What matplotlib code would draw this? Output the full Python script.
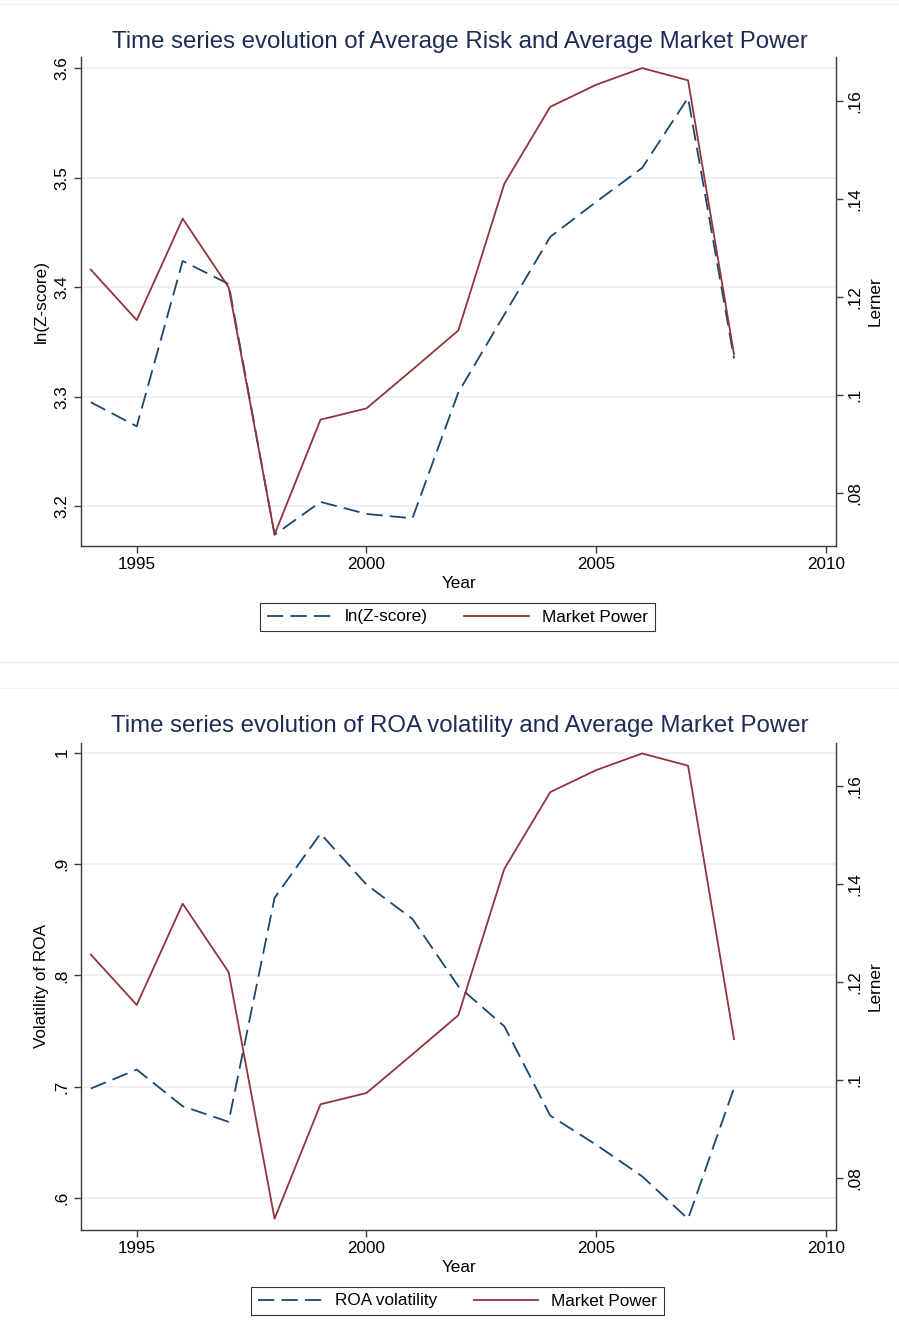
import matplotlib
matplotlib.use("Agg")
import matplotlib.pyplot as plt
from matplotlib.lines import Line2D

plt.rcParams['font.family'] = ['Liberation Sans', 'DejaVu Sans']

years = [1994, 1995, 1996, 1997, 1998, 1999, 2000, 2001, 2002, 2003, 2004, 2005, 2006, 2007, 2008]
ln_zscore = [3.295, 3.273, 3.424, 3.403, 3.174, 3.204, 3.193, 3.189, 3.304, 3.375, 3.446, 3.478, 3.509, 3.573, 3.335]
market_power = [0.1256, 0.1153, 0.1360, 0.1220, 0.0716, 0.0950, 0.0973, 0.1052, 0.1132, 0.1431, 0.1588, 0.1633, 0.1667, 0.1642, 0.1083]
roa_vol = [0.6985, 0.7155, 0.6826, 0.6686, 0.8697, 0.9274, 0.8816, 0.8508, 0.7903, 0.7544, 0.6742, 0.6480, 0.6197, 0.5815, 0.6990]

x_ticks = [1995, 2000, 2005, 2010]
top_left_ticks = [3.2, 3.3, 3.4, 3.5, 3.6]
top_left_labels = ["3.2", "3.3", "3.4", "3.5", "3.6"]
bot_left_ticks = [0.6, 0.7, 0.8, 0.9, 1.0]
bot_left_labels = [".6", ".7", ".8", ".9", "1"]
right_ticks = [0.08, 0.10, 0.12, 0.14, 0.16]
right_labels = [".08", ".1", ".12", ".14", ".16"]

NAVY = "#1a476f"
MAROON = "#90353b"
GRID = "#e8eff2"
AX = "#3a3a3a"
TITLE = "#1e2c55"
FS = 12.3

W, H = 899, 1338
fig = plt.figure(figsize=(W / 100, H / 100), dpi=100)


def fx(px):
    return px / W


def fy(py):
    return 1 - py / H


def panel(top_px, bot_px, left_vals, left_ticks, left_labels, left_lim,
          left_label, title, title_y, year_y, leg_y, leg_name):
    ax = fig.add_axes([fx(80.7), fy(bot_px), fx(836 - 80.7), (bot_px - top_px) / H])
    ax2 = ax.twinx()
    ax.set_xlim(1993.78, 2010.22)
    ax.set_ylim(*left_lim)
    ax2.set_ylim(0.0693, 0.1689)
    ax.plot(years, left_vals, color=NAVY, lw=1.3, dashes=(9, 4))
    ax2.plot(years, market_power, color=MAROON, lw=1.3)
    ax.set_yticks(left_ticks)
    ax.set_yticklabels(left_labels, rotation=90, va='center')
    ax2.set_yticks(right_ticks)
    ax2.set_yticklabels(right_labels, rotation=90, va='center')
    ax.set_xticks(x_ticks)
    ax.set_xticklabels([str(t) for t in x_ticks])
    ax.grid(axis='y', color=GRID, lw=1.2)
    ax.set_axisbelow(True)
    for a in (ax, ax2):
        a.spines['top'].set_visible(False)
        for s in ('left', 'right', 'bottom'):
            a.spines[s].set_color(AX)
            a.spines[s].set_linewidth(1.0)
        a.tick_params(direction='out', length=5, width=1.0, color=AX, labelsize=FS,
                      labelcolor='black', pad=3)
    ax.spines['right'].set_visible(False)
    ax2.spines['left'].set_visible(False)
    ax2.spines['bottom'].set_visible(False)
    ax.set_ylabel(left_label, fontsize=FS, labelpad=4)
    ax2.set_ylabel("Lerner", fontsize=FS, labelpad=4)
    fig.text(fx(459), fy(year_y), "Year", ha='center', va='center', fontsize=FS)
    fig.text(fx(460), fy(title_y), title, ha='center', va='center', fontsize=17.3, color=TITLE)
    handles = [Line2D([], [], color=NAVY, lw=1.3, dashes=(9, 4)),
               Line2D([], [], color=MAROON, lw=1.3)]
    leg = fig.legend(handles, [leg_name, "Market Power"], loc='center',
                     bbox_to_anchor=(fx(457.5), fy(leg_y)), ncol=2, fontsize=FS,
                     frameon=True, fancybox=False, edgecolor='black',
                     handlelength=3.8, columnspacing=2.1, handletextpad=0.75,
                     borderpad=0.4)
    leg.get_frame().set_linewidth(0.8)
    return ax, ax2


panel(57.3, 545.7, ln_zscore, top_left_ticks, top_left_labels, (3.164, 3.61),
      "ln(Z-score)", "Time series evolution of Average Risk and Average Market Power",
      42, 583, 617, "ln(Z-score)")
panel(742.7, 1230, roa_vol, bot_left_ticks, bot_left_labels, (0.5715, 1.009),
      "Volatility of ROA", "Time series evolution of ROA volatility and Average Market Power",
      726, 1267, 1301, "ROA volatility")

for yy in (4, 661.7, 688.3):
    fig.add_artist(Line2D([0, 1], [fy(yy), fy(yy)], color="#eef3f3", lw=1.0))

fig.savefig("out.png", dpi=100, facecolor='white')
